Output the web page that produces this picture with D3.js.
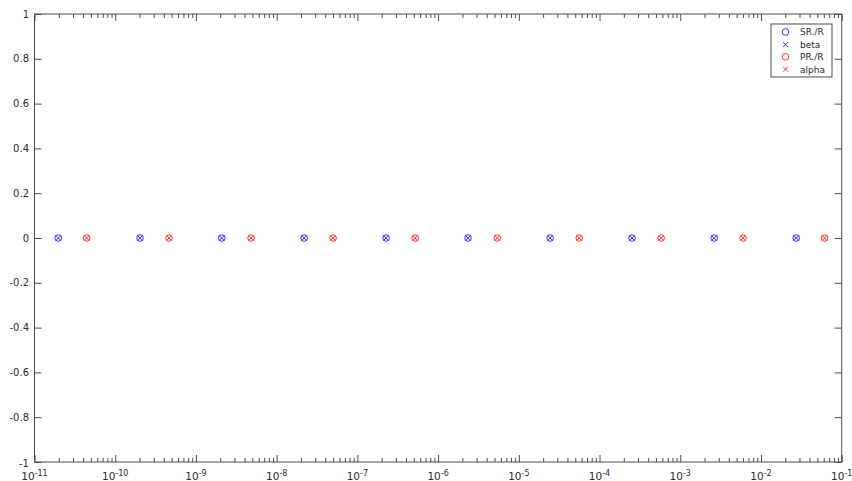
<!DOCTYPE html>
<html lang="en">
<head>
    <meta charset="UTF-8">
    <title>SR/R and PR/R</title>
    <script src="https://d3js.org/d3.v7.min.js"></script>
    <style>
        body { margin: 0; background: #fff; }
        text { font-family: "DejaVu Sans", sans-serif; fill: #2b2b2b; }
    </style>
</head>
<body>
    <div id="chart"></div>
    <script>
        // values
        var srX = [1.97e-11, 2.03e-10, 2.09e-9, 2.19e-8, 2.27e-7, 2.35e-6, 2.44e-5, 2.53e-4, 2.63e-3, 2.73e-2];
        var srY = [0, 0, 0, 0, 0, 0, 0, 0, 0, 0];
        var prX = [4.43e-11, 4.64e-10, 4.82e-9, 5.0e-8, 5.2e-7, 5.4e-6, 5.6e-5, 5.8e-4, 6.0e-3, 6.12e-2];
        var prY = [0, 0, 0, 0, 0, 0, 0, 0, 0, 0];
        var xExponents = [-11, -10, -9, -8, -7, -6, -5, -4, -3, -2, -1];
        var yTicks = [-1, -0.8, -0.6, -0.4, -0.2, 0, 0.2, 0.4, 0.6, 0.8, 1];
        var legendNames = ["SR./R", "beta", "PR./R", "alpha"];

        var W = 852, H = 481;
        var plotLeft = 34.5, plotRight = 841.7, plotTop = 14, plotBottom = 462;

        var svg = d3.select("#chart").append("svg")
            .attr("width", W).attr("height", H);

        var x = d3.scaleLog().domain([1e-11, 1e-1]).range([plotLeft, plotRight]);
        var y = d3.scaleLinear().domain([-1, 1]).range([plotBottom, plotTop]);

        var majors = xExponents.map(function(e) { return Math.pow(10, e); });
        var minors = [];
        majors.slice(0, -1).forEach(function(m) {
            for (var k = 2; k <= 9; k++) minors.push(m * k);
        });

        var axisColor = "#4d4d4d";

        function styleAxis(g) {
            g.select(".domain").remove();
            g.selectAll("line").attr("stroke", axisColor).attr("stroke-width", 1);
            g.selectAll("text").remove();
        }

        // x ticks, bottom and top, pointing inwards
        svg.append("g").attr("transform", "translate(0," + plotBottom + ")")
            .call(d3.axisBottom(x).tickValues(majors).tickSize(-7)).call(styleAxis);
        svg.append("g").attr("transform", "translate(0," + plotBottom + ")")
            .call(d3.axisBottom(x).tickValues(minors).tickSize(-4)).call(styleAxis);
        svg.append("g").attr("transform", "translate(0," + plotTop + ")")
            .call(d3.axisTop(x).tickValues(majors).tickSize(-7)).call(styleAxis);
        svg.append("g").attr("transform", "translate(0," + plotTop + ")")
            .call(d3.axisTop(x).tickValues(minors).tickSize(-4)).call(styleAxis);

        // y ticks, left and right
        svg.append("g").attr("transform", "translate(" + plotLeft + ",0)")
            .call(d3.axisLeft(y).tickValues(yTicks).tickSize(-7)).call(styleAxis);
        svg.append("g").attr("transform", "translate(" + plotRight + ",0)")
            .call(d3.axisRight(y).tickValues(yTicks).tickSize(-7)).call(styleAxis);

        // box
        svg.append("rect")
            .attr("x", plotLeft).attr("y", plotTop)
            .attr("width", plotRight - plotLeft).attr("height", plotBottom - plotTop)
            .attr("fill", "none").attr("stroke", axisColor).attr("stroke-width", 1);

        // x tick labels 10^n
        var xl = svg.append("g").selectAll("text").data(xExponents).enter().append("text")
            .attr("x", function(e) { return x(Math.pow(10, e)); })
            .attr("y", 480)
            .attr("text-anchor", "middle")
            .style("font-size", "10.5px");
        xl.append("tspan").text("10");
        xl.append("tspan").attr("dy", -4.5).style("font-size", "8px")
            .text(function(e) { return "-" + Math.abs(e); });

        // y tick labels
        svg.append("g").selectAll("text").data(yTicks).enter().append("text")
            .attr("x", 29)
            .attr("y", function(d) { return y(d) + (d === -1 ? 5 : 3.6); })
            .attr("text-anchor", "end")
            .style("font-size", "10px")
            .text(function(d) { return String(+d.toFixed(1)); });

        // markers: circle + cross
        var blue = "#0000ff", red = "#ff0000";

        function circles(xs, ys, color) {
            svg.append("g").selectAll("circle").data(xs).enter().append("circle")
                .attr("cx", function(d) { return x(d); })
                .attr("cy", function(d, i) { return y(ys[i]); })
                .attr("r", 3.3)
                .attr("fill", "none").attr("stroke", color).attr("stroke-width", 0.8);
        }
        function crosses(xs, ys, color) {
            svg.append("g").selectAll("path").data(xs).enter().append("path")
                .attr("transform", function(d, i) { return "translate(" + x(d) + "," + y(ys[i]) + ")"; })
                .attr("d", "M-2.5,-2.5L2.5,2.5M-2.5,2.5L2.5,-2.5")
                .attr("fill", "none").attr("stroke", color).attr("stroke-width", 0.8);
        }
        circles(srX, srY, blue);
        crosses(srX, srY, blue);
        circles(prX, prY, red);
        crosses(prX, prY, red);

        // legend
        var lg = svg.append("g");
        lg.append("rect")
            .attr("x", 771).attr("y", 24).attr("width", 61).attr("height", 53)
            .attr("fill", "#fff").attr("stroke", axisColor).attr("stroke-width", 1);
        var legendColors = [blue, blue, red, red];
        var legendShapes = ["o", "x", "o", "x"];
        legendNames.forEach(function(name, i) {
            var ly = 32 + i * 12.4;
            if (legendShapes[i] === "o") {
                lg.append("circle").attr("cx", 785.5).attr("cy", ly).attr("r", 3.3)
                    .attr("fill", "none").attr("stroke", legendColors[i]).attr("stroke-width", 0.8);
            } else {
                lg.append("path").attr("transform", "translate(785.5," + ly + ")")
                    .attr("d", "M-2.5,-2.5L2.5,2.5M-2.5,2.5L2.5,-2.5")
                    .attr("fill", "none").attr("stroke", legendColors[i]).attr("stroke-width", 0.8);
            }
            lg.append("text").attr("x", 800).attr("y", ly + 3.3)
                .style("font-size", "9px").text(name);
        });
    </script>
</body>
</html>
